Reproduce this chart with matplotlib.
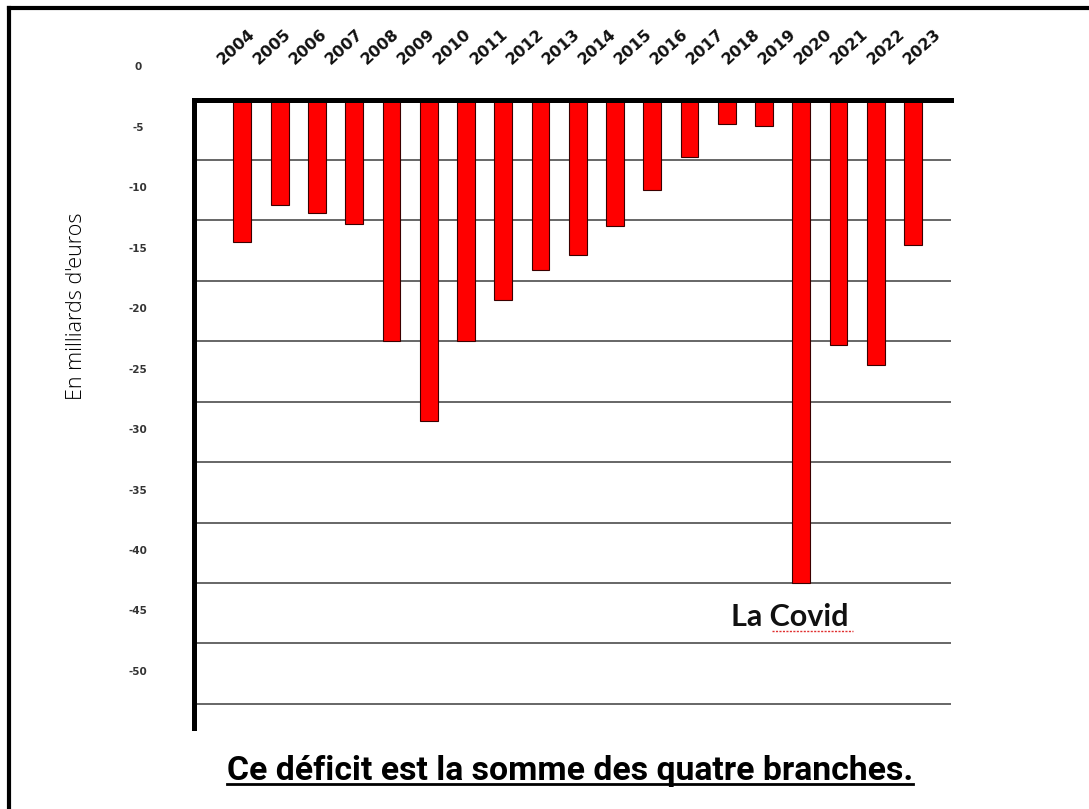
import numpy as np
import matplotlib
matplotlib.use("Agg")
import matplotlib.pyplot as plt
from matplotlib.lines import Line2D
from matplotlib.transforms import ScaledTranslation

# ---- data ----
bar_years = ["2005", "2006", "2007", "2008", "2009", "2010", "2011", "2012", "2013",
             "2014", "2015", "2016", "2017", "2018", "2019", "2020", "2021", "2022", "2023"]
deficits = [-11.8, -8.7, -9.4, -10.3, -20.0, -26.6, -20.0, -16.6, -14.1,
            -12.9, -10.5, -7.5, -4.75, -2.0, -2.2, -40.0, -20.3, -22.0, -12.0]
year_labels = ["2004", "2005", "2006", "2007", "2008", "2009", "2010", "2011", "2012", "2013",
               "2014", "2015", "2016", "2017", "2018", "2019", "2020", "2021", "2022", "2023"]
ytick_values = [0, -5, -10, -15, -20, -25, -30, -35, -40, -45, -50]
ytick_labels = ["0", "-5", "-10", "-15", "-20", "-25", "-30", "-35", "-40", "-45", "-50"]
y_label = "En milliards d'euros"
covid_label = "La Covid"
title = "Ce déficit est la somme des quatre branches."

W, H = 1089, 809
fig = plt.figure(figsize=(W / 100, H / 100), dpi=100)
fig.patch.set_facecolor("white")

ax_l, ax_r, ax_t, ax_b = 194, 951, 99.5, 728
ax = fig.add_axes([ax_l / W, 1 - ax_b / H, (ax_r - ax_l) / W, (ax_b - ax_t) / H])

x = np.arange(len(bar_years))
ax.bar(x, deficits, width=0.48, color="#ff0000", edgecolor="#3a0000", linewidth=0.8, zorder=2)

ax.set_xlim(-1.30, 19.02)
ax.set_ylim(-52.0, 0)

ax.set_yticks(ytick_values)
ax.set_yticklabels([])
ax.tick_params(axis="y", length=0)
ax.set_xticks([])
ax.yaxis.grid(True, color="#5a5a5a", linewidth=1.3)
ax.set_axisbelow(True)

for s in ["right", "bottom"]:
    ax.spines[s].set_visible(False)
for s in ["top", "left"]:
    ax.spines[s].set_linewidth(3.6)
    ax.spines[s].set_color("black")
    ax.spines[s].set_zorder(5)

# y tick labels (shifted up as in the original)
off = ScaledTranslation(0, 32 / 100, fig.dpi_scale_trans)
for v, s in zip(ytick_values, ytick_labels):
    ax.text(-(ax_l - 138) / (ax_r - ax_l), v, s, transform=ax.get_yaxis_transform() + off,
            ha="center", va="center", fontsize=7.5, fontweight="bold",
            color="#333333", family="DejaVu Sans", clip_on=False)

# year labels on top
label_pos = np.linspace(-0.17, 18.24, len(year_labels))
ylab_axes = (ax_b - 47) / (ax_b - ax_t)
for p, s in zip(label_pos, year_labels):
    ax.text(p, ylab_axes, s, transform=ax.get_xaxis_transform(), rotation=42,
            rotation_mode="anchor", ha="center", va="center", fontsize=11.5,
            fontweight="bold", family="DejaVu Sans", color="#111111", clip_on=False)

# y axis label
fig.text(77 / W, 1 - 306 / H, y_label, rotation=90, ha="center", va="center",
         fontsize=15.5, family="Open Sans", fontweight="light", color="black")

# La Covid annotation
fig.text(731 / W, 1 - 626 / H, covid_label, ha="left", va="baseline",
         fontsize=22, family="Lato", fontweight="bold", color="#111111")
fig.add_artist(Line2D([772 / W, 853 / W], [1 - 631 / H, 1 - 631 / H], color="#e03030",
                      linewidth=1.0, linestyle=(0, (1.5, 1.0)), transform=fig.transFigure))

# title with underline
t = fig.text(570 / W, 1 - 780 / H, title, ha="center", va="baseline",
             fontsize=23, family="Roboto", fontweight="bold", color="black")
fig.canvas.draw()
r = fig.canvas.get_renderer()
bb = t.get_window_extent(r)
t.set_fontsize(23 * 690 / bb.width)
fig.canvas.draw()
bb = t.get_window_extent(r)
fig.add_artist(Line2D([bb.x0 / W, bb.x1 / W], [1 - 783.5 / H, 1 - 783.5 / H], color="black",
                      linewidth=2.0, transform=fig.transFigure))

# outer frame (top and left only)
fig.add_artist(Line2D([9 / W, 1.0], [1 - 8 / H, 1 - 8 / H], color="black", linewidth=3.0,
                      transform=fig.transFigure, solid_capstyle="projecting"))
fig.add_artist(Line2D([9 / W, 9 / W], [0, 1 - 8 / H], color="black", linewidth=3.0,
                      transform=fig.transFigure, solid_capstyle="projecting"))

fig.savefig("out.png", dpi=100, facecolor="white")
